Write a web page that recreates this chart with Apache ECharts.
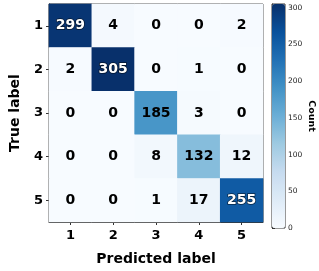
<!DOCTYPE html>
<html><head><meta charset="utf-8">
<script src="https://cdn.jsdelivr.net/npm/echarts@6/dist/echarts.min.js"></script>
<style>html,body{margin:0;padding:0;background:#fff}#c{width:319px;height:271px}</style>
</head><body><div id="c"></div>
<script>
const predictedLabels = ['1','2','3','4','5'];
const trueLabels = ['1','2','3','4','5'];
const row1 = [299, 4, 0, 0, 2];
const row2 = [2, 305, 0, 1, 0];
const row3 = [0, 0, 185, 3, 0];
const row4 = [0, 0, 8, 132, 12];
const row5 = [0, 0, 1, 17, 255];
const colorbarTicks = [0, 50, 100, 150, 200, 250, 300];
const rows = [row1, row2, row3, row4, row5];
const vmax = 305;

const data = [];
rows.forEach((r, i) => r.forEach((v, j) => {
  const dark = v > 200;
  data.push({value: [j, i, v], label: {color: dark ? '#fff' : '#000',
    textBorderColor: dark ? 'rgba(0,0,0,0.6)' : 'transparent', textBorderWidth: dark ? 1.5 : 0}});
}));

const font = 'DejaVu Sans';
const chart = echarts.init(document.getElementById('c'), null, {renderer: 'canvas'});
chart.setOption({
  animation: false,
  textStyle: {fontFamily: font},
  grid: [
    {left: 39, top: 4, width: 224, height: 224, show: true, borderColor: '#333', borderWidth: 1, backgroundColor: 'transparent'},
    {left: 272, top: 4, width: 13, height: 224, show: true, borderColor: '#333', borderWidth: 1, backgroundColor: 'transparent'}
  ],
  xAxis: [
    {type: 'category', data: predictedLabels, gridIndex: 0,
     axisLine: {show: true, lineStyle: {color: '#333'}},
     axisTick: {show: true, alignWithLabel: true, length: 3, lineStyle: {color: '#333'}},
     axisLabel: {fontFamily: font, fontWeight: 'bold', fontSize: 13, color: '#000', margin: 7},
     splitLine: {show: false},
     name: 'Predicted label', nameLocation: 'middle', nameGap: 30,
     nameTextStyle: {fontFamily: font, fontWeight: 'bold', fontSize: 14, color: '#000'}},
    {type: 'value', gridIndex: 1, show: false, min: 0, max: 1}
  ],
  yAxis: [
    {type: 'category', data: trueLabels, gridIndex: 0, inverse: true,
     axisLine: {show: true, lineStyle: {color: '#333'}},
     axisTick: {show: true, alignWithLabel: true, length: 3, lineStyle: {color: '#333'}},
     axisLabel: {fontFamily: font, fontWeight: 'bold', fontSize: 13, color: '#000', margin: 6},
     splitLine: {show: false},
     name: 'True label', nameLocation: 'middle', nameGap: 27,
     nameTextStyle: {fontFamily: font, fontWeight: 'bold', fontSize: 14, color: '#000'}},
    {type: 'value', gridIndex: 1, position: 'right', min: 0, max: vmax, interval: 50,
     axisLine: {show: true, lineStyle: {color: '#333'}},
     axisTick: {show: true, length: 3, lineStyle: {color: '#333'}},
     axisLabel: {fontFamily: font, fontSize: 7.5, color: '#222', margin: 3},
     splitLine: {show: false},
     name: 'Count', nameLocation: 'middle', nameGap: 21, nameRotate: -90,
     nameTextStyle: {fontFamily: font, fontWeight: 'bold', fontSize: 9.5, color: '#000'}}
  ],
  visualMap: {
    type: 'continuous', min: 0, max: vmax, seriesIndex: 0, calculable: false,
    left: 272, top: 4, itemWidth: 13, itemHeight: 224, padding: 0, text: ['', ''],
    showLabel: false,
    inRange: {color: ['#f7fbff','#deebf7','#c6dbef','#9ecae1','#6baed6','#4292c6','#2171b5','#08519c','#08306b']}
  },
  series: [
    {type: 'heatmap', xAxisIndex: 0, yAxisIndex: 0, data: data,
     label: {show: true, fontFamily: font, fontWeight: 'bold', fontSize: 14},
     itemStyle: {borderWidth: 0}},
    {type: 'scatter', xAxisIndex: 1, yAxisIndex: 1, data: [], silent: true}
  ]
});
</script></body></html>
